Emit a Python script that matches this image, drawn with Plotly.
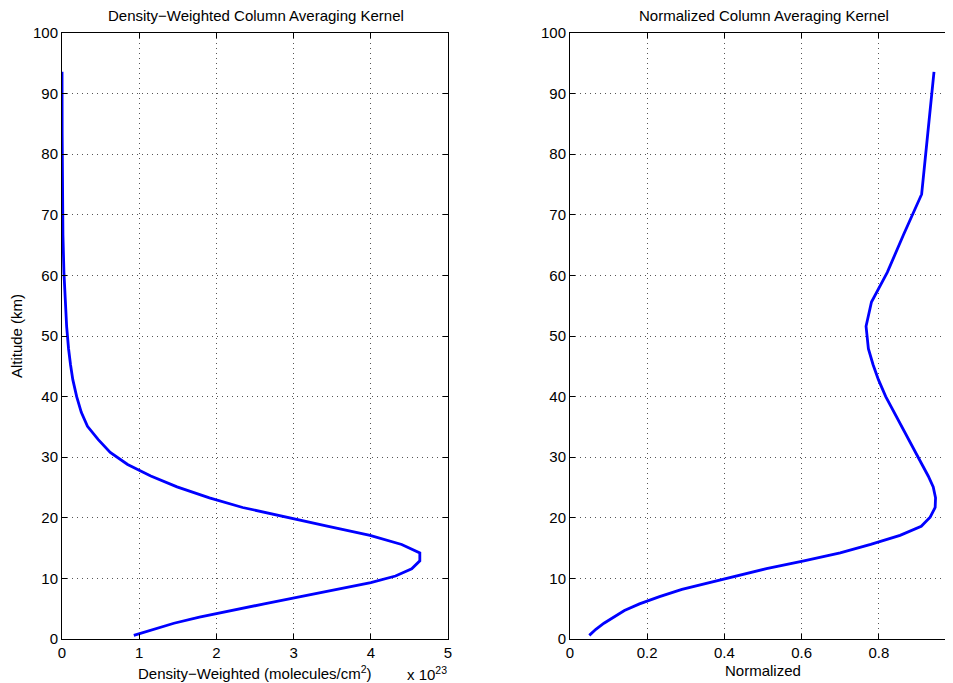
import plotly.graph_objects as go

# Altitude levels (km)
altitude = [0.6, 1.6, 2.6, 3.6, 4.7, 5.8, 7.0, 8.2, 9.3, 10.4, 11.6, 12.9, 14.2, 15.6,
            17.1, 18.6, 20.1, 21.7, 23.3, 25.1, 26.9, 28.8, 30.8, 32.9, 35.1, 37.4,
            40.0, 42.8, 45.3, 47.9, 51.6, 55.6, 60.5, 66.7, 73.4, 83.5, 93.6]

# Density-weighted column averaging kernel (x 1e23 molecules/cm^2)
density_weighted = [0.93, 1.20, 1.45, 1.78, 2.18, 2.62, 3.09, 3.57, 4.00, 4.32, 4.53, 4.635,
                    4.635, 4.40, 3.99, 3.45, 2.89, 2.34, 1.91, 1.49, 1.15, 0.85, 0.625, 0.47,
                    0.33, 0.25, 0.19, 0.14, 0.11, 0.085, 0.06, 0.04, 0.025, 0.012, 0.006,
                    0.002, 0.0005]

# Normalized column averaging kernel
normalized = [0.050, 0.067, 0.088, 0.112, 0.141, 0.180, 0.232, 0.290, 0.362, 0.432, 0.509,
              0.606, 0.700, 0.779, 0.855, 0.910, 0.933, 0.946, 0.947, 0.941, 0.928, 0.912,
              0.895, 0.877, 0.858, 0.838, 0.818, 0.799, 0.785, 0.773, 0.767, 0.781, 0.822,
              0.864, 0.911, 0.927, 0.943]

y_ticks = list(range(0, 101, 10))
x1_ticks = [0, 1, 2, 3, 4, 5]
x2_ticks = [0, 0.2, 0.4, 0.6, 0.8]
x2_labels = ["0", "0.2", "0.4", "0.6", "0.8"]

# page body has an 8px margin: figure occupies window pixels 8..953 x 8..683
OFF = 8
W, H = 953 - OFF, 683 - OFF
FONT = "Liberation Sans, Arial, Helvetica, sans-serif"
FS = 15

fig = go.Figure()
fig.add_trace(go.Scatter(x=density_weighted, y=altitude, mode="lines",
                         line=dict(color="#0000FF", width=2.8), xaxis="x", yaxis="y",
                         showlegend=False))
fig.add_trace(go.Scatter(x=normalized, y=altitude, mode="lines",
                         line=dict(color="#0000FF", width=2.8), xaxis="x2", yaxis="y2",
                         showlegend=False))

axis_common = dict(showline=True, linecolor="black", linewidth=1, mirror="ticks",
                   ticks="inside", ticklen=5, tickcolor="black", showgrid=True,
                   gridcolor="#555555", griddash="1px,4px", gridwidth=1,
                   zeroline=False, automargin=False,
                   tickfont=dict(family=FONT, size=FS, color="black"))

def wx(p):
    return (p - OFF) / W

def py(p):
    return (638.3 - p) / 605.0

x1_dom = [wx(62), wx(448)]
x2_dom = [wx(570), 1.0]
x2_max = (953 - 570) / 386.0

fig.update_layout(
    width=W, height=H,
    margin=dict(l=0, r=0, t=int(33.3 - OFF), b=int(H - (638.3 - OFF))),
    paper_bgcolor="white", plot_bgcolor="white",
    font=dict(family=FONT, size=FS, color="black"),
    xaxis=dict(domain=x1_dom, range=[0, 5], tickvals=x1_ticks, anchor="y", **axis_common),
    yaxis=dict(domain=[0, 1], range=[0, 100], tickvals=y_ticks, anchor="x",
               title=dict(text="Altitude (km)", font=dict(family=FONT, size=FS), standoff=14),
               **axis_common),
    xaxis2=dict(domain=x2_dom, range=[0, x2_max], tickvals=x2_ticks, ticktext=x2_labels,
                anchor="y2", **axis_common),
    yaxis2=dict(domain=[0, 1], range=[0, 100], tickvals=y_ticks, anchor="x2", **axis_common),
)

def ann(text, x, y):
    return dict(text=text, x=wx(x), y=py(y), xref="paper", yref="paper", showarrow=False,
                xanchor="center", yanchor="middle", font=dict(family=FONT, size=FS))

annotations = [
    ann("Density\u2212Weighted Column Averaging Kernel", 256, 16),
    ann("Normalized Column Averaging Kernel", 763.5, 16),
    ann("Density\u2212Weighted (molecules/cm<sup>2</sup>)", 255, 672),
    ann("Normalized", 763, 670),
    ann("x 10<sup>23</sup>", 427, 673),
]
fig.update_layout(annotations=annotations)

fig.write_html("out.html")
